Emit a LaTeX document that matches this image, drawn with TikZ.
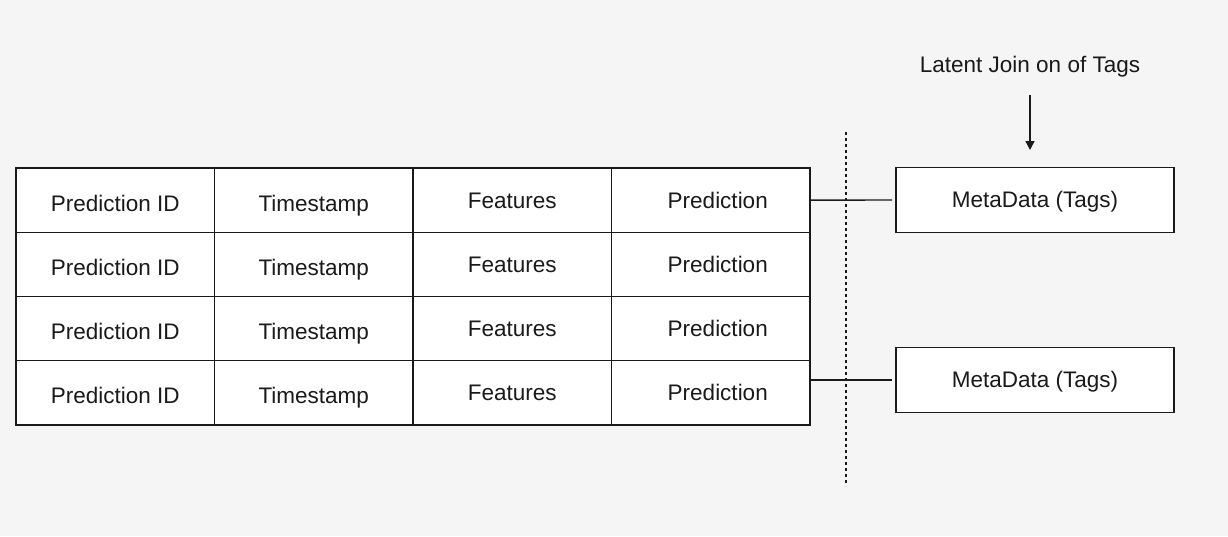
\documentclass[tikz,border=0pt]{standalone}
\usepackage{fontspec}
\setmainfont{Liberation Sans}
\usetikzlibrary{positioning,arrows.meta}
\definecolor{bgcolor}{HTML}{F5F5F5}
\definecolor{inkcolor}{HTML}{1A1A1A}
\tikzset{
  cell/.style={draw=inkcolor, text=inkcolor, line width=1.4pt, fill=white, outer sep=0pt, inner sep=0pt,
    minimum width=198.5pt, minimum height=64.25pt, text height=16pt, text depth=0pt,
    font=\fontsize{22.5}{27}\selectfont},
  lowcell/.style={cell, text height=22pt},
  predcell/.style={cell, execute at begin node=\hspace*{14pt}},
  tagbox/.style={cell, minimum width=278pt, minimum height=64.5pt, text height=15.5pt},
  link/.style={draw=inkcolor, line width=1.4pt, shorten >=4pt},
}
\begin{document}
\begin{tikzpicture}[x=1pt, y=-1pt]
    \fill [bgcolor] (0,0) rectangle (1228,536);
    \useasboundingbox (0,0) rectangle (1228,536);

    % Prediction table
    \foreach \r in {1,...,4} {
      \pgfmathsetmacro{\yy}{168+64.25*(\r-0.5)}
      \node [lowcell] (id\r) at (115.25, \yy) {Prediction ID};
      \node [lowcell, right=0pt of id\r] (ts\r) {Timestamp};
      \node [cell, right=0pt of ts\r] (ft\r) {Features};
      \node [predcell, right=0pt of ft\r] (pr\r) {Prediction};
    }

    % Separator
    \draw [inkcolor, line width=1.5pt, dash pattern=on 3pt off 3pt] (846, 132) -- (846, 486);

    % Tags
    \node [tagbox] (meta1) at (1035, 200) {MetaData (Tags)};
    \node [tagbox] (meta2) at (1035, 380) {MetaData (Tags)};
    \draw [link] (pr1.east) -- (meta1.west);
    \draw [link] (pr4.east |- meta2.west) -- (meta2.west);

    % Latent join
    \node [inkcolor, inner sep=0pt, text height=15.5pt, text depth=0pt, font=\fontsize{22.5}{27}\selectfont]
      (latent) at (1030, 65) {Latent Join on of Tags};
    \coordinate (jointop) at (1030, 95);
    \coordinate (joinend) at (1030, 150);
    \draw [inkcolor, line width=1.4pt, -{Triangle[length=9pt, width=9pt]}] (jointop) -- (joinend);
\end{tikzpicture}
\end{document}
